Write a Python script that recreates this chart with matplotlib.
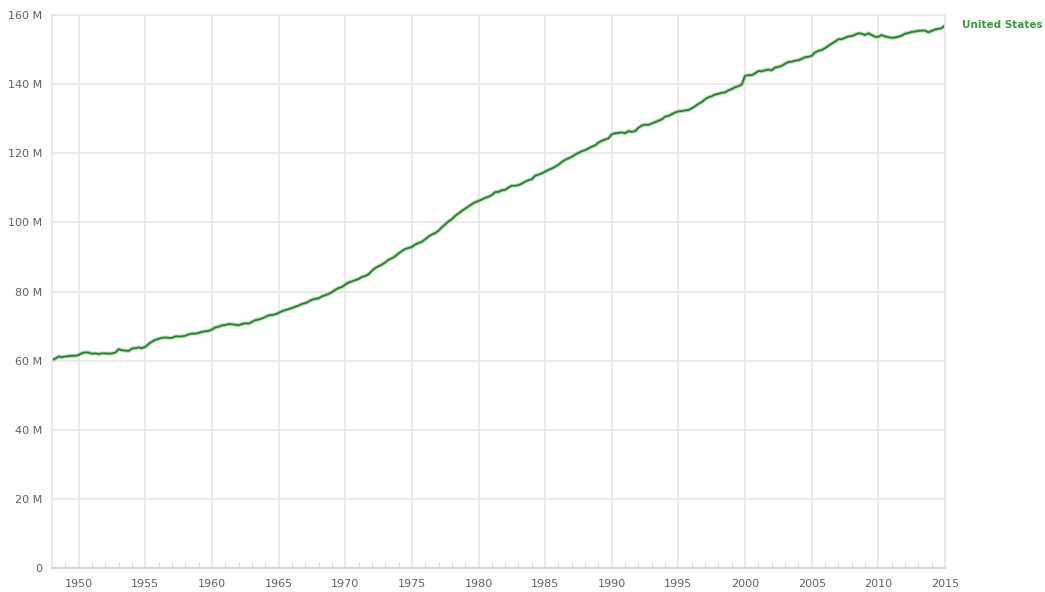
import matplotlib
matplotlib.use("Agg")
import matplotlib.pyplot as plt
from matplotlib.ticker import FuncFormatter, MultipleLocator
import numpy as np

# civilian labor force, millions, quarterly readings (Q1..Q4) per year
START_YEAR = 1948
LABOR_FORCE = [
    60.2, 60.6, 61.2, 61.0,     # 1948
    61.2, 61.3, 61.4, 61.4,     # 1949
    61.6, 62.2, 62.4, 62.3,     # 1950
    62.0, 62.1, 61.9, 62.1,     # 1951
    62.1, 62.0, 62.1, 62.3,     # 1952
    63.3, 63.0, 62.9, 62.8,     # 1953
    63.5, 63.6, 63.8, 63.6,     # 1954
    64.0, 64.8, 65.5, 66.0,     # 1955
    66.3, 66.6, 66.7, 66.6,     # 1956
    66.6, 67.0, 67.0, 67.0,     # 1957
    67.2, 67.6, 67.8, 67.8,     # 1958
    68.0, 68.3, 68.5, 68.6,     # 1959
    69.0, 69.6, 69.8, 70.2,     # 1960
    70.3, 70.6, 70.5, 70.4,     # 1961
    70.2, 70.6, 70.8, 70.7,     # 1962
    71.2, 71.7, 71.9, 72.2,     # 1963
    72.6, 73.1, 73.2, 73.4,     # 1964
    73.8, 74.3, 74.6, 74.9,     # 1965
    75.2, 75.6, 75.9, 76.4,     # 1966
    76.6, 77.1, 77.6, 77.9,     # 1967
    78.0, 78.6, 78.9, 79.3,     # 1968
    79.8, 80.5, 81.0, 81.3,     # 1969
    82.0, 82.6, 82.9, 83.3,     # 1970
    83.6, 84.2, 84.5, 85.0,     # 1971
    86.0, 86.8, 87.3, 87.8,     # 1972
    88.4, 89.2, 89.6, 90.2,     # 1973
    91.0, 91.7, 92.3, 92.6,     # 1974
    92.9, 93.6, 94.0, 94.4,     # 1975
    95.1, 95.9, 96.5, 96.9,     # 1976
    97.6, 98.6, 99.4, 100.3,    # 1977
    100.9, 101.9, 102.6, 103.3,  # 1978
    104.0, 104.6, 105.3, 105.8,  # 1979
    106.2, 106.6, 107.1, 107.4,  # 1980
    107.9, 108.8, 108.8, 109.3,  # 1981
    109.4, 110.1, 110.6, 110.6,  # 1982
    110.8, 111.2, 111.8, 112.2,  # 1983
    112.5, 113.5, 113.8, 114.2,  # 1984
    114.7, 115.2, 115.6, 116.1,  # 1985
    116.7, 117.5, 118.1, 118.5,  # 1986
    119.0, 119.6, 120.1, 120.6,  # 1987
    120.9, 121.4, 121.9, 122.3,  # 1988
    123.1, 123.6, 124.0, 124.3,  # 1989
    125.5, 125.8, 125.9, 126.0,  # 1990
    125.8, 126.4, 126.2, 126.4,  # 1991
    127.4, 128.0, 128.3, 128.2,  # 1992
    128.6, 129.0, 129.4, 129.8,  # 1993
    130.6, 130.8, 131.3, 131.8,  # 1994
    132.1, 132.2, 132.4, 132.5,  # 1995
    133.0, 133.6, 134.3, 134.8,  # 1996
    135.6, 136.2, 136.5, 137.0,  # 1997
    137.2, 137.5, 137.6, 138.2,  # 1998
    138.6, 139.1, 139.4, 139.9,  # 1999
    142.4, 142.6, 142.6, 143.1,  # 2000
    143.8, 143.7, 144.0, 144.2,  # 2001
    144.0, 144.8, 145.0, 145.3,  # 2002
    145.9, 146.4, 146.5, 146.8,  # 2003
    146.9, 147.3, 147.8, 147.9,  # 2004
    148.2, 149.2, 149.6, 149.9,  # 2005
    150.4, 151.1, 151.7, 152.3,  # 2006
    153.0, 153.0, 153.4, 153.8,  # 2007
    153.9, 154.3, 154.7, 154.6,  # 2008
    154.2, 154.7, 154.2, 153.7,  # 2009
    153.7, 154.2, 153.8, 153.6,  # 2010
    153.4, 153.5, 153.7, 154.0,  # 2011
    154.6, 154.8, 155.1, 155.2,  # 2012
    155.4, 155.5, 155.5, 155.0,  # 2013
    155.4, 155.8, 156.0, 156.2,  # 2014
    157.0,                       # 2015
]
SERIES_LABEL = "United States"

_GRID = "#e6e6e6"
_TEXT = "#606060"
_LINE = "#2a7f2a"
_HALO = "#6cc46c"

years = START_YEAR + np.arange(len(LABOR_FORCE)) / 4.0
values = np.array(LABOR_FORCE)

fig = plt.figure(figsize=(10.45, 5.92), dpi=100)
ax = fig.add_axes([52 / 1045, 24 / 592, 893 / 1045, 553 / 592])

ax.plot(years, values, color=_HALO, lw=2.8, alpha=0.55, solid_capstyle="round")
ax.plot(years, values, color=_LINE, lw=1.3, solid_capstyle="round")

ax.set_xlim(START_YEAR, 2015)
ax.set_ylim(0, 160)
ax.xaxis.set_major_locator(MultipleLocator(5))
ax.xaxis.set_minor_locator(MultipleLocator(1))
ax.yaxis.set_major_locator(MultipleLocator(20))
ax.yaxis.set_major_formatter(FuncFormatter(lambda v, p: "0" if v == 0 else f"{int(v)} M"))

ax.grid(which="major", color=_GRID, lw=1.2)
ax.set_axisbelow(True)
for name, spine in ax.spines.items():
    spine.set_color(_GRID)
    spine.set_linewidth(1.2)
ax.spines["bottom"].set_color("#cfcfcf")

ax.tick_params(axis="y", length=0, pad=7, labelsize=8, labelcolor=_TEXT)
ax.tick_params(axis="x", which="major", length=0, pad=8, labelsize=8, labelcolor=_TEXT)
ax.tick_params(axis="x", which="minor", direction="in", length=4, color="#d5d5d5")

ax.annotate(SERIES_LABEL, xy=(years[-1], values[-1]), xytext=(17, 0),
            textcoords="offset pixels", va="center", ha="left",
            fontsize=7.5, fontweight="bold", color="#3a9a3a",
            annotation_clip=False)

fig.savefig("out.png", dpi=100, facecolor="white")
